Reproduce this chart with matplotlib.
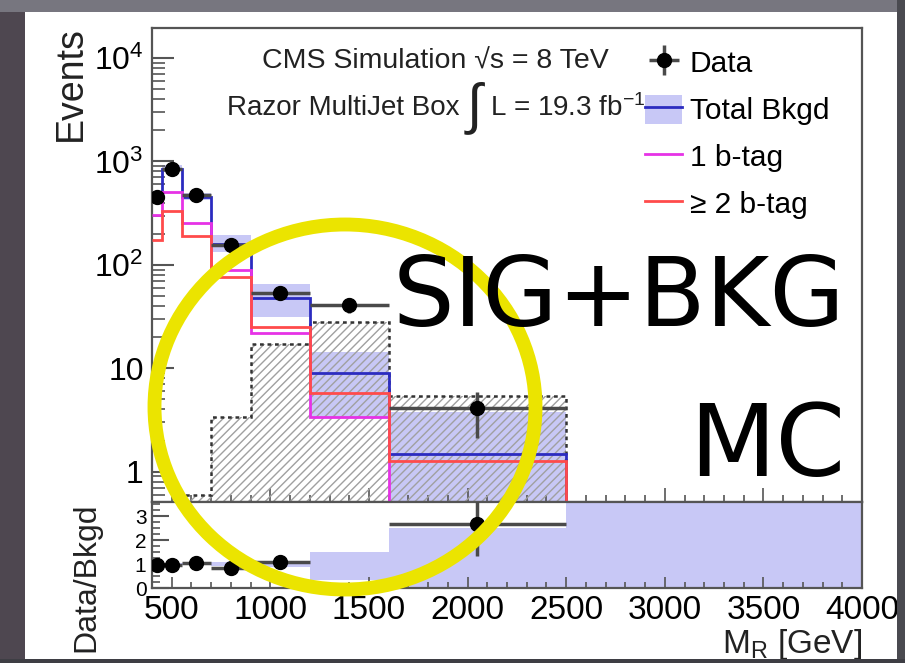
import numpy as np
import matplotlib.pyplot as plt
from matplotlib.patches import Rectangle, Ellipse, Patch
from matplotlib.lines import Line2D
from matplotlib.ticker import FixedLocator, FixedFormatter, LogLocator, NullFormatter, MultipleLocator

plt.rcParams['font.family'] = ['Liberation Sans', 'DejaVu Sans']
plt.rcParams['mathtext.fontset'] = 'custom'
plt.rcParams['mathtext.rm'] = 'Liberation Sans'
plt.rcParams['mathtext.it'] = 'Liberation Sans:italic'
plt.rcParams['hatch.linewidth'] = 1.0

W, H = 905, 663

# M_R binning [GeV]
edges = [400, 450, 550, 700, 900, 1200, 1600, 2500, 4000]

# background prediction
total_bkg = [455, 850, 455, 160, 48, 9.1, 1.5, 0.2]
bkg_lo = [420, 800, 420, 134, 31.6, 3.3, 0.01, 0.01]
bkg_hi = [490, 920, 490, 195, 65, 14.5, 3.8, 0.3]
one_btag = [305, 505, 255, 89, 22, 3.4, 0.3, 0.05]
two_btag = [175, 330, 190, 76, 25, 5.8, 1.28, 0.1]
signal = [0.3, 0.3, 0.6, 3.4, 17, 28, 5.4, 0.01]

# pseudo-data
data_x = [425, 500, 625, 800, 1050, 1400, 2050]
data_xerr = [25, 50, 75, 100, 150, 200, 450]
data_y = [455, 850, 475, 157, 54, 41, 4.1]
data_ylo = [21, 29, 22, 12.5, 7.3, 6.4, 2.0]
data_yhi = [21, 29, 22, 12.5, 7.3, 6.4, 1.8]

# ratio panel
ratio_y = [0.98, 0.97, 1.04, 0.83, 1.08, 4.5, 2.7]
ratio_ylo = [0.05, 0.04, 0.05, 0.08, 0.15, 0.7, 1.35]
ratio_yhi = [0.05, 0.04, 0.05, 0.08, 0.15, 0.7, 1.3]
band_lo = [0.97, 0.97, 0.95, 0.92, 0.88, 0.32, 0.0, 0.0]
band_hi = [1.03, 1.03, 1.05, 1.08, 1.12, 1.52, 2.5, 5.0]

band_col = '#c8c8f6'
blue = '#2b2bc0'
magenta = '#e632e6'
red = '#ff4b4b'
frame = '#555555'


def fx(x):
    return x / W


def fy(y):
    return 1 - y / H


fig = plt.figure(figsize=(W / 100, H / 100), dpi=100)
ax = fig.add_axes([fx(152), fy(502), 710 / W, 474 / H])
rax = fig.add_axes([fx(152), fy(588), 710 / W, 86 / H])

# main panel
ax.stairs(bkg_hi, edges, baseline=bkg_lo, fill=True, color=band_col, lw=0, zorder=1)
ax.stairs(signal, edges, baseline=0.01, fill=True, facecolor='none', edgecolor='#a0a0a0',
          hatch='////', lw=0, zorder=2)
ax.stairs(signal, edges, baseline=0.01, color='#333333', lw=1.8, linestyle=(0, (1.5, 1.5)), zorder=3)
ax.stairs(total_bkg, edges, baseline=None, color=blue, lw=2, zorder=4)
ax.stairs(one_btag, edges, baseline=None, color=magenta, lw=2, zorder=4)
ax.stairs(two_btag, edges, baseline=None, color=red, lw=2, zorder=4)
h_data = ax.errorbar(data_x, data_y, xerr=data_xerr, yerr=[data_ylo, data_yhi], fmt='o',
                     color='black', ecolor='#4a4a4a', elinewidth=2.5, markersize=10,
                     capsize=0, zorder=5)

ax.set_xlim(400, 4000)
ax.set_yscale('log')
ax.set_ylim(0.51, 1.95e4)
ax.yaxis.set_major_locator(FixedLocator([1, 10, 100, 1000, 10000]))
ax.yaxis.set_major_formatter(FixedFormatter(['1', '10', '$10^{2}$', '$10^{3}$', '$10^{4}$']))
ax.yaxis.set_minor_locator(LogLocator(subs=np.arange(2, 10)))
ax.yaxis.set_minor_formatter(NullFormatter())
ax.xaxis.set_major_locator(MultipleLocator(500))
ax.xaxis.set_minor_locator(MultipleLocator(100))
ax.tick_params(axis='y', which='major', direction='in', length=16, width=1.5, color=frame,
               labelsize=23, pad=6, right=False)
ax.tick_params(axis='y', which='minor', direction='in', length=9, width=1.2, color=frame, right=False)
ax.tick_params(axis='x', which='major', direction='in', length=10, width=1.2, color=frame,
               labelbottom=False, top=False)
ax.tick_params(axis='x', which='minor', direction='in', length=5, width=1.2, color=frame, top=False)

# ratio panel
rax.stairs(band_hi, edges, baseline=band_lo, fill=True, color=band_col, lw=0, zorder=1)
rax.errorbar(data_x, ratio_y, xerr=data_xerr, yerr=[ratio_ylo, ratio_yhi], fmt='o',
             color='black', ecolor='#4a4a4a', elinewidth=2.5, markersize=10, capsize=0, zorder=5)
rax.set_xlim(400, 4000)
rax.set_ylim(0, 3.6)
rax.xaxis.set_major_locator(FixedLocator([500, 1000, 1500, 2000, 2500, 3000, 3500, 4000]))
rax.xaxis.set_minor_locator(MultipleLocator(100))
rax.yaxis.set_major_locator(MultipleLocator(1))
rax.yaxis.set_minor_locator(MultipleLocator(0.25))
rax.tick_params(axis='x', which='major', direction='in', length=8, width=1.2, color=frame,
                labelsize=24, pad=5, top=False)
rax.tick_params(axis='x', which='minor', direction='in', length=4, width=1.2, color=frame, top=False)
rax.tick_params(axis='y', which='major', direction='in', length=12, width=1.5, color=frame,
                labelsize=15, pad=4, right=False)
rax.tick_params(axis='y', which='minor', direction='in', length=6, width=1.2, color=frame, right=False)

for a in (ax, rax):
    for s in a.spines.values():
        s.set_color(frame)
        s.set_linewidth(1.6)

# legend
h_bkg = (Patch(facecolor=band_col, edgecolor='none'), Line2D([], [], color=blue, lw=2))
h_one = Line2D([], [], color=magenta, lw=2)
h_two = Line2D([], [], color=red, lw=2)
ax.legend([h_data, h_bkg, h_one, h_two], ['Data', 'Total Bkgd', '1 b-tag', '\u2265 2 b-tag'],
          loc='upper left', bbox_to_anchor=(fx(645), fy(48)), bbox_transform=fig.transFigure,
          frameon=False, fontsize=21.5, handlelength=1.25, handletextpad=0.25,
          labelspacing=0.55, borderpad=0, borderaxespad=0, handleheight=1.1)

# labels inside the frame
txt = '#222222'
ax.text(fx(262), fy(62), 'CMS Simulation \u221as = 8 TeV', transform=fig.transFigure,
        fontsize=20.5, va='center', ha='left', color=txt, zorder=3)
ax.text(fx(227), fy(108), 'Razor MultiJet Box', transform=fig.transFigure,
        fontsize=20, va='center', ha='left', color=txt, zorder=3)
ax.text(fx(474), fy(108), '\u222b', transform=fig.transFigure,
        fontsize=40, va='center', ha='center', color=txt, zorder=3)
ax.text(fx(490), fy(108), 'L = 19.3 fb$^{-1}$', transform=fig.transFigure,
        fontsize=20, va='center', ha='left', color=txt, zorder=3)

# axis titles
fig.text(fx(71), fy(26), 'Events', rotation=90, ha='center', va='top', fontsize=27, color=txt)
fig.text(fx(86), fy(502), 'Data/Bkgd', rotation=90, ha='center', va='top', fontsize=23, color=txt)
fig.text(fx(862), fy(627), r'M$_{\mathrm{R}}$ [GeV]', ha='right', va='top', fontsize=24, color=txt)

# highlight ring and annotation
fig.add_artist(Ellipse((fx(345), fy(407)), 381 / W, 365 / H, transform=fig.transFigure,
                       fill=False, edgecolor='#ebe400', lw=10, zorder=11))
fig.text(fx(845), fy(326), 'SIG+BKG', ha='right', va='baseline', fontsize=70,
         family='DejaVu Sans', color='black', zorder=12)
fig.text(fx(845), fy(476), 'MC', ha='right', va='baseline', fontsize=72,
         family='DejaVu Sans', color='black', zorder=12)

# dark surround around the white sheet
for (x0, y0, w, h, c) in [(0, 0, 25, H, '#4e4750'), (0, 0, W, 12, '#77767f'),
                          (897, 0, 8, H, '#4a4a50'), (0, 659, W, 4, '#3e3e44')]:
    fig.add_artist(Rectangle((fx(x0), fy(y0 + h)), w / W, h / H, transform=fig.transFigure,
                             color=c, lw=0, zorder=20))

fig.savefig('out.png', dpi=100)
